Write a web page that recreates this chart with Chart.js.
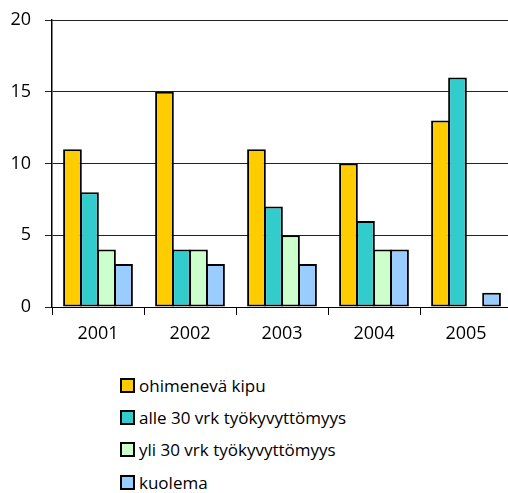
<!DOCTYPE html>
<html>
<head>
<meta charset="utf-8">
<script src="https://cdn.jsdelivr.net/npm/chart.js@4.4.0/dist/chart.umd.min.js"></script>
<style>
    html, body { margin: 0; padding: 0; background: #fff; overflow: hidden; }
    body { width: 508px; height: 493px; position: relative; font-family: 'Open Sans', sans-serif; }
    #wrap { position: absolute; left: 0; top: 0; width: 512px; height: 360px; }
    #legend { position: absolute; left: 120px; top: 369px; }
    .item { display: flex; align-items: center; height: 32.4px; font-size: 17px; color: #000; }
    .box { width: 11px; height: 11px; border: 2px solid #000; margin-right: 4px; flex: none; }
</style>
</head>
<body>
<div id="wrap"><canvas id="c"></canvas></div>
<div id="legend"></div>
<script>
// chart values
const years = ['2001', '2002', '2003', '2004', '2005'];
const seriesNames = ['ohimenevä kipu', 'alle 30 vrk työkyvyttömyys', 'yli 30 vrk työkyvyttömyys', 'kuolema'];
const kipu = [11, 15, 11, 10, 13];
const alle30 = [8, 4, 7, 6, 16];
const yli30 = [4, 4, 5, 4, null];
const kuolema = [3, 3, 3, 4, 1];
const yTicks = [0, 5, 10, 15, 20];

const colors = ['#FFCC00', '#33CCCC', '#CCFFCC', '#99CCFF'];
const values = [kipu, alle30, yli30, kuolema];

const chart = new Chart(document.getElementById('c'), {
    type: 'bar',
    data: {
        labels: years,
        datasets: values.map((v, i) => ({
            label: seriesNames[i],
            data: v,
            backgroundColor: colors[i],
            borderColor: '#000',
            borderWidth: 2,
            borderSkipped: false,
            categoryPercentage: 0.74,
            barPercentage: 1.1
        }))
    },
    options: {
        responsive: true,
        maintainAspectRatio: false,
        animation: false,
        layout: { padding: { top: 20, left: 0, right: 0, bottom: 0 } },
        plugins: { legend: { display: false }, tooltip: { enabled: false } },
        scales: {
            x: {
                grid: { display: true, drawOnChartArea: false, drawTicks: true, tickLength: 8, color: '#000', lineWidth: 1 },
                border: { display: true, color: '#000', width: 1 },
                ticks: { color: '#000', font: { family: 'Open Sans', size: 18 }, padding: 8 },
                afterFit: s => { s.height = 53; s.paddingLeft = 0; s.paddingRight = 0; }
            },
            y: {
                min: 0,
                max: 20,
                afterBuildTicks: s => { s.ticks = yTicks.map(v => ({ value: v })); },
                grid: { color: '#222', lineWidth: 1, tickLength: 7 },
                border: { display: true, color: '#000', width: 1.5 },
                ticks: { color: '#000', font: { family: 'Open Sans', size: 18 }, padding: 14 },
                afterFit: s => { s.width = 52; s.paddingTop = 0; s.paddingBottom = 0; }
            }
        }
    }
});

// legend built from the chart datasets
const legend = document.getElementById('legend');
chart.data.datasets.forEach(ds => {
    const row = document.createElement('div');
    row.className = 'item';
    row.innerHTML = `<span class="box" style="background:${ds.backgroundColor}"></span>${ds.label}`;
    legend.appendChild(row);
});
</script>
</body>
</html>
